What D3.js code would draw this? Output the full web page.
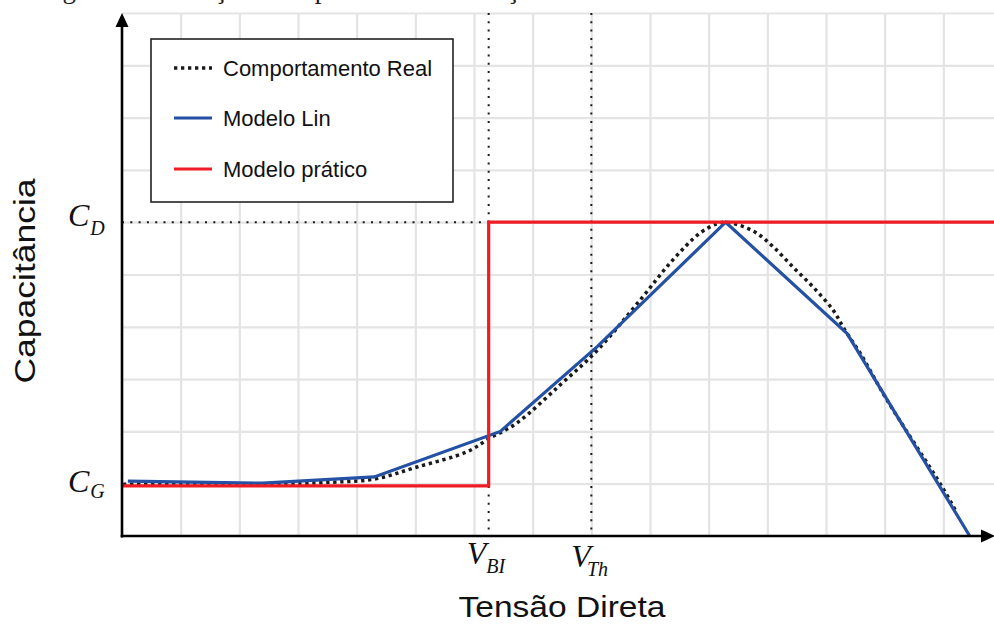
<!DOCTYPE html>
<html>
<head>
<meta charset="utf-8">
<script src="https://cdn.jsdelivr.net/npm/d3@7"></script>
<style>
  html, body { margin: 0; padding: 0; background: #fff; }
  svg { display: block; }
</style>
</head>
<body>
<svg id="chart" width="994" height="624"></svg>
<script>
// Grid positions (in grid units along each axis)
const xGridTicks = d3.range(1, 15);
const yGridTicks = d3.range(1, 11);

// Reference levels
const vBI = 6.25;   // V_BI
const vTh = 8.0;    // V_Th
const cG = 0.96;    // C_G
const cD = 6.0;     // C_D

// Comportamento Real (measured curve)
const realX = [0.02, 2.47, 3.6, 4.31, 5.03, 5.88, 6.27, 6.73, 7.47, 8.11, 8.83, 9.39, 9.85, 10.14, 10.29, 10.53, 10.82, 11.10, 11.44, 11.78, 12.12, 12.32, 12.58, 13.04, 13.99, 14.23];
const realY = [0.99, 0.99, 1.03, 1.09, 1.32, 1.61, 1.87, 2.16, 2.89, 3.56, 4.51, 5.28, 5.79, 5.97, 6.00, 5.94, 5.79, 5.53, 5.14, 4.76, 4.32, 3.94, 3.50, 2.60, 0.92, 0.44];

// Modelo Lin (piecewise linear)
const linX = [0.1, 2.4, 4.3, 6.45, 8.1, 10.29, 12.36, 14.45];
const linY = [1.05, 1.01, 1.13, 2.0, 3.62, 6.0, 3.87, 0];

// Modelo prático (step)
const pratX = [0, vBI, vBI, 15];
const pratY = [cG, cG, cD, cD];

// Legend entries
const legendLabels = ["Comportamento Real", "Modelo Lin", "Modelo prático"];

const svg = d3.select("#chart");
const x = d3.scaleLinear().domain([0, 15]).range([122, 1002]);
const y = d3.scaleLinear().domain([0, 10]).range([536, 13]);

// Page caption (runs off the top edge)
svg.append("text")
  .attr("x", 40).attr("y", -2)
  .attr("font-family", "Liberation Serif, Times New Roman, serif")
  .attr("font-size", 27)
  .attr("fill", "#222")
  .text("Figura 2 – Variação da capacitância em função da tensão direta");

// Grid
const gridColor = "#e4e4e4";
svg.append("g")
  .attr("transform", `translate(0,${y(0)})`)
  .call(d3.axisBottom(x).tickValues(xGridTicks).tickSize(-(y(0) - y(10))).tickFormat(""))
  .call(g => g.select(".domain").remove())
  .selectAll("line").attr("stroke", gridColor).attr("stroke-width", 2.2);

svg.append("g")
  .attr("transform", `translate(${x(0)},0)`)
  .call(d3.axisLeft(y).tickValues(yGridTicks).tickSize(-(994 - x(0))).tickFormat(""))
  .call(g => g.select(".domain").remove())
  .selectAll("line").attr("stroke", gridColor).attr("stroke-width", 2.2);

// Guide lines
const guide = svg.append("g").attr("stroke", "#1a1a1a").attr("stroke-width", 2)
  .attr("stroke-dasharray", "2,6.3").attr("fill", "none");
guide.append("line").attr("x1", x(0)).attr("x2", x(vBI)).attr("y1", y(cD)).attr("y2", y(cD));
guide.append("line").attr("x1", x(vBI)).attr("x2", x(vBI)).attr("y1", y(10)).attr("y2", y(0));
guide.append("line").attr("x1", x(vTh)).attr("x2", x(vTh)).attr("y1", y(10)).attr("y2", y(0));

const line = d3.line().x(d => x(d[0])).y(d => y(d[1]));

// Comportamento Real
svg.append("path")
  .datum(d3.zip(realX, realY))
  .attr("d", line.curve(d3.curveCatmullRom.alpha(0.5)))
  .attr("fill", "none").attr("stroke", "#1a1a1a").attr("stroke-width", 3.5)
  .attr("stroke-dasharray", "3.3,3.7");

// Modelo Lin
svg.append("path")
  .attr("d", d3.line().x(d => x(d[0])).y(d => y(d[1]))(d3.zip(linX, linY)))
  .attr("fill", "none").attr("stroke", "#2451a3").attr("stroke-width", 3.2)
  .attr("stroke-linejoin", "miter");

// Modelo prático
svg.append("path")
  .attr("d", d3.line().x(d => x(d[0])).y(d => y(d[1]))(d3.zip(pratX, pratY)))
  .attr("fill", "none").attr("stroke", "#ee1c25").attr("stroke-width", 3.2);

// Axes with arrowheads
const axisG = svg.append("g");
axisG.append("line").attr("x1", x(0)).attr("x2", x(0)).attr("y1", y(0) + 1.5).attr("y2", 24)
  .attr("stroke", "#000").attr("stroke-width", 2.6);
axisG.append("line").attr("x1", x(0) - 1.3).attr("x2", 984).attr("y1", y(0)).attr("y2", y(0))
  .attr("stroke", "#000").attr("stroke-width", 2.6);
axisG.append("path").attr("d", `M${x(0)},13 L${x(0) - 6.5},27 L${x(0) + 6.5},27 Z`).attr("fill", "#000");
axisG.append("path").attr("d", `M995,${y(0)} L981,${y(0) - 6.5} L981,${y(0) + 6.5} Z`).attr("fill", "#000");

// Legend
const lg = svg.append("g");
lg.append("rect").attr("x", 151).attr("y", 39).attr("width", 302).attr("height", 163)
  .attr("fill", "#fff").attr("stroke", "#222").attr("stroke-width", 1.6);
const legendY = [68, 118, 169];
const legendStyles = [
  { stroke: "#1a1a1a", dash: "3.3,3.7", w: 3.5 },
  { stroke: "#2451a3", dash: null, w: 3.2 },
  { stroke: "#ee1c25", dash: null, w: 3.2 }
];
legendLabels.forEach((lab, i) => {
  lg.append("line").attr("x1", 174).attr("x2", 212).attr("y1", legendY[i]).attr("y2", legendY[i])
    .attr("stroke", legendStyles[i].stroke).attr("stroke-width", legendStyles[i].w)
    .attr("stroke-dasharray", legendStyles[i].dash);
  lg.append("text").attr("x", 223).attr("y", legendY[i] + 8.3)
    .attr("font-family", "Liberation Sans, Arial, sans-serif").attr("font-size", 22)
    .attr("fill", "#111").text(lab);
});

// Axis titles
svg.append("text")
  .attr("transform", "translate(35,281) rotate(-90)")
  .attr("text-anchor", "middle")
  .attr("font-family", "Liberation Sans, Arial, sans-serif").attr("font-size", 30)
  .attr("textLength", 205).attr("lengthAdjust", "spacingAndGlyphs")
  .attr("fill", "#111").text("Capacitância");

svg.append("text")
  .attr("x", 562).attr("y", 617)
  .attr("text-anchor", "middle")
  .attr("font-family", "Liberation Sans, Arial, sans-serif").attr("font-size", 30)
  .attr("textLength", 207).attr("lengthAdjust", "spacingAndGlyphs")
  .attr("fill", "#111").text("Tensão Direta");

// Symbol labels (italic serif with subscripts)
const serif = "Liberation Serif, Times New Roman, serif";
function symLabel(px, py, main, sub, dx, dy) {
  const t = svg.append("text").attr("x", px).attr("y", py)
    .attr("font-family", serif).attr("font-style", "italic").attr("fill", "#111");
  t.append("tspan").attr("font-size", 32).text(main);
  t.append("tspan").attr("font-size", 20).attr("dx", dx).attr("dy", dy).text(sub);
}
symLabel(68, y(cD) + 4, "C", "D", 1, 9);
symLabel(68, 491.5, "C", "G", 1, 6.5);
symLabel(x(vBI) - 22, 564, "V", "BI", 0, 9);
symLabel(x(vTh) - 20, 567, "V", "Th", -4, 9);
</script>
</body>
</html>
